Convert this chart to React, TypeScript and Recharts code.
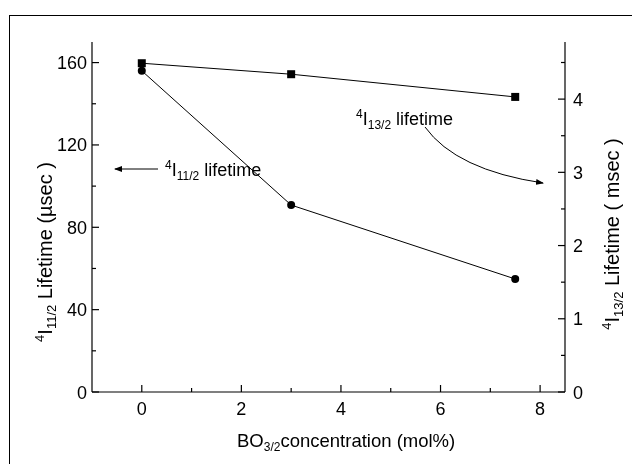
import { ComposedChart, Line, XAxis, YAxis } from 'recharts';

// BO3/2 concentration (mol%)
const concentration = [0, 3, 7.5];
// 4I11/2 lifetime, usec (left axis)
const lifetime11 = [156, 90.8, 54.9];
// 4I13/2 lifetime, msec (right axis)
const lifetime13 = [4.49, 4.34, 4.03];

const xTicks = [0, 1, 2, 3, 4, 5, 6, 7, 8];
const leftTicks = [0, 20, 40, 60, 80, 100, 120, 140, 160];
const rightTicks = [0, 0.5, 1, 1.5, 2, 2.5, 3, 3.5, 4, 4.5];

const data = concentration.map((x, i) => ({ x, l11: lifetime11[i], l13: lifetime13[i] }));

const FONT = '"Liberation Sans", Arial, sans-serif';
const MAJOR = 7;
const MINOR = 4;

const BottomTick = ({ x, y, payload }: any) => {
  const v = payload.value;
  const major = v % 2 === 0;
  return (
    <g>
      <line x1={x} x2={x} y1={y} y2={y - (major ? MAJOR : MINOR)} stroke="#000" strokeWidth={1.2} />
      {major && (
        <text x={x} y={y + 23} textAnchor="middle" fontSize={18} fontFamily={FONT} fill="#000">
          {v}
        </text>
      )}
    </g>
  );
};

const TopTick = ({ x, y, payload }: any) => {
  const major = payload.value % 2 === 0;
  return <line x1={x} x2={x} y1={y} y2={y + (major ? MAJOR : MINOR)} stroke="#000" strokeWidth={1.2} />;
};

const LeftTick = ({ x, y, payload }: any) => {
  const v = payload.value;
  const major = v % 40 === 0;
  return (
    <g>
      <line x1={x} x2={x + (major ? MAJOR : MINOR)} y1={y} y2={y} stroke="#000" strokeWidth={1.2} />
      {major && (
        <text x={x - 5} y={y + 6.5} textAnchor="end" fontSize={18} fontFamily={FONT} fill="#000">
          {v}
        </text>
      )}
    </g>
  );
};

const RightTick = ({ x, y, payload }: any) => {
  const v = payload.value;
  const major = Number.isInteger(v);
  return (
    <g>
      <line x1={x} x2={x - (major ? MAJOR : MINOR)} y1={y} y2={y} stroke="#000" strokeWidth={1.2} />
      {major && (
        <text x={x + 8} y={y + 6.5} textAnchor="start" fontSize={18} fontFamily={FONT} fill="#000">
          {v}
        </text>
      )}
    </g>
  );
};

const SquareDot = ({ cx, cy }: any) => <rect x={cx - 4} y={cy - 4} width={8} height={8} fill="#000" />;

const Annotations = () => (
  <svg
    width={616}
    height={448}
    style={{ position: 'absolute', left: 0, top: 0, pointerEvents: 'none', fontFamily: FONT, overflow: 'visible' }}
  >
    <defs>
      <marker id="head" markerWidth="8" markerHeight="6" refX="7" refY="3" orient="auto" markerUnits="userSpaceOnUse">
        <path d="M0,0 L8,3 L0,6 Z" fill="#000" />
      </marker>
    </defs>

    {/* left axis title */}
    <text
      x={44}
      y={244}
      transform="rotate(-90 44 244)"
      textAnchor="middle"
      fontSize={20}
      fill="#000"
      style={{ whiteSpace: 'pre' }}
    >
      <tspan fontSize={13} dy={-8}>4</tspan>
      <tspan dy={8}>I</tspan>
      <tspan fontSize={13} dy={4}>11/2</tspan>
      <tspan dy={-4}> Lifetime (µsec )</tspan>
    </text>

    {/* right axis title */}
    <text
      x={611}
      y={226}
      transform="rotate(-90 611 226)"
      textAnchor="middle"
      fontSize={20}
      fill="#000"
      style={{ whiteSpace: 'pre' }}
    >
      <tspan fontSize={13} dy={-8}>4</tspan>
      <tspan dy={8}>I</tspan>
      <tspan fontSize={13} dy={4}>13/2</tspan>
      <tspan dy={-4}> Lifetime ( msec )</tspan>
    </text>

    {/* x axis title */}
    <text x={229} y={439} fontSize={18.5} fill="#000" style={{ whiteSpace: 'pre' }}>
      <tspan>BO</tspan>
      <tspan fontSize={12} dy={4}>3/2</tspan>
      <tspan dy={-4}>concentration (mol%)</tspan>
    </text>

    {/* 4I11/2 annotation */}
    <line x1={150} y1={161} x2={107} y2={161} stroke="#000" strokeWidth={1} markerEnd="url(#head)" />
    <text x={157} y={168} fontSize={18} fill="#000" style={{ whiteSpace: 'pre' }}>
      <tspan fontSize={12} dy={-7}>4</tspan>
      <tspan dy={7}>I</tspan>
      <tspan fontSize={12} dy={4}>11/2</tspan>
      <tspan dy={-4}> lifetime</tspan>
    </text>

    {/* 4I13/2 annotation */}
    <text x={348} y={117} fontSize={18} fill="#000" style={{ whiteSpace: 'pre' }}>
      <tspan fontSize={12} dy={-7}>4</tspan>
      <tspan dy={7}>I</tspan>
      <tspan fontSize={12} dy={4}>13/2</tspan>
      <tspan dy={-4}> lifetime</tspan>
    </text>
    <path d="M417,119 Q448,162 535,175" fill="none" stroke="#000" strokeWidth={1} markerEnd="url(#head)" />
  </svg>
);

export default function App() {
  return (
    <>
      <div
        style={{
          position: 'fixed',
          left: 9,
          top: 15,
          right: 0,
          bottom: 0,
          borderLeft: '1px solid #000',
          borderTop: '1px solid #000',
        }}
      />
      <div style={{ position: 'relative', width: 616, height: 448 }}>
        <ComposedChart width={616} height={448} data={data} margin={{ top: 34, right: 0, bottom: 0, left: 0 }}>
          <XAxis
            type="number"
            dataKey="x"
            domain={[-1, 8.5]}
            ticks={xTicks}
            interval={0}
            tickSize={0}
            tickMargin={0}
            height={64}
            stroke="#000"
            strokeWidth={1.2}
            tick={<BottomTick />}
          />
          <XAxis
            xAxisId="top"
            orientation="top"
            type="number"
            dataKey="x"
            domain={[-1, 8.5]}
            ticks={xTicks}
            interval={0}
            tickSize={0}
            tickMargin={0}
            height={0}
            stroke="#000"
            strokeWidth={1.2}
            tick={<TopTick />}
          />
          <YAxis
            yAxisId="left"
            orientation="left"
            domain={[0, 170]}
            ticks={leftTicks}
            interval={0}
            tickSize={0}
            tickMargin={0}
            width={84}
            stroke="#000"
            strokeWidth={1.2}
            tick={<LeftTick />}
          />
          <YAxis
            yAxisId="right"
            orientation="right"
            domain={[0, 4.78]}
            ticks={rightTicks}
            interval={0}
            tickSize={0}
            tickMargin={0}
            width={59}
            stroke="#000"
            strokeWidth={1.2}
            tick={<RightTick />}
          />
          <Line
            yAxisId="left"
            type="linear"
            dataKey="l11"
            stroke="#000"
            strokeWidth={1}
            dot={{ r: 4, fill: '#000', stroke: '#000', strokeWidth: 0 }}
            isAnimationActive={false}
          />
          <Line
            yAxisId="right"
            type="linear"
            dataKey="l13"
            stroke="#000"
            strokeWidth={1}
            dot={<SquareDot />}
            isAnimationActive={false}
          />
        </ComposedChart>
        <Annotations />
      </div>
    </>
  );
}
